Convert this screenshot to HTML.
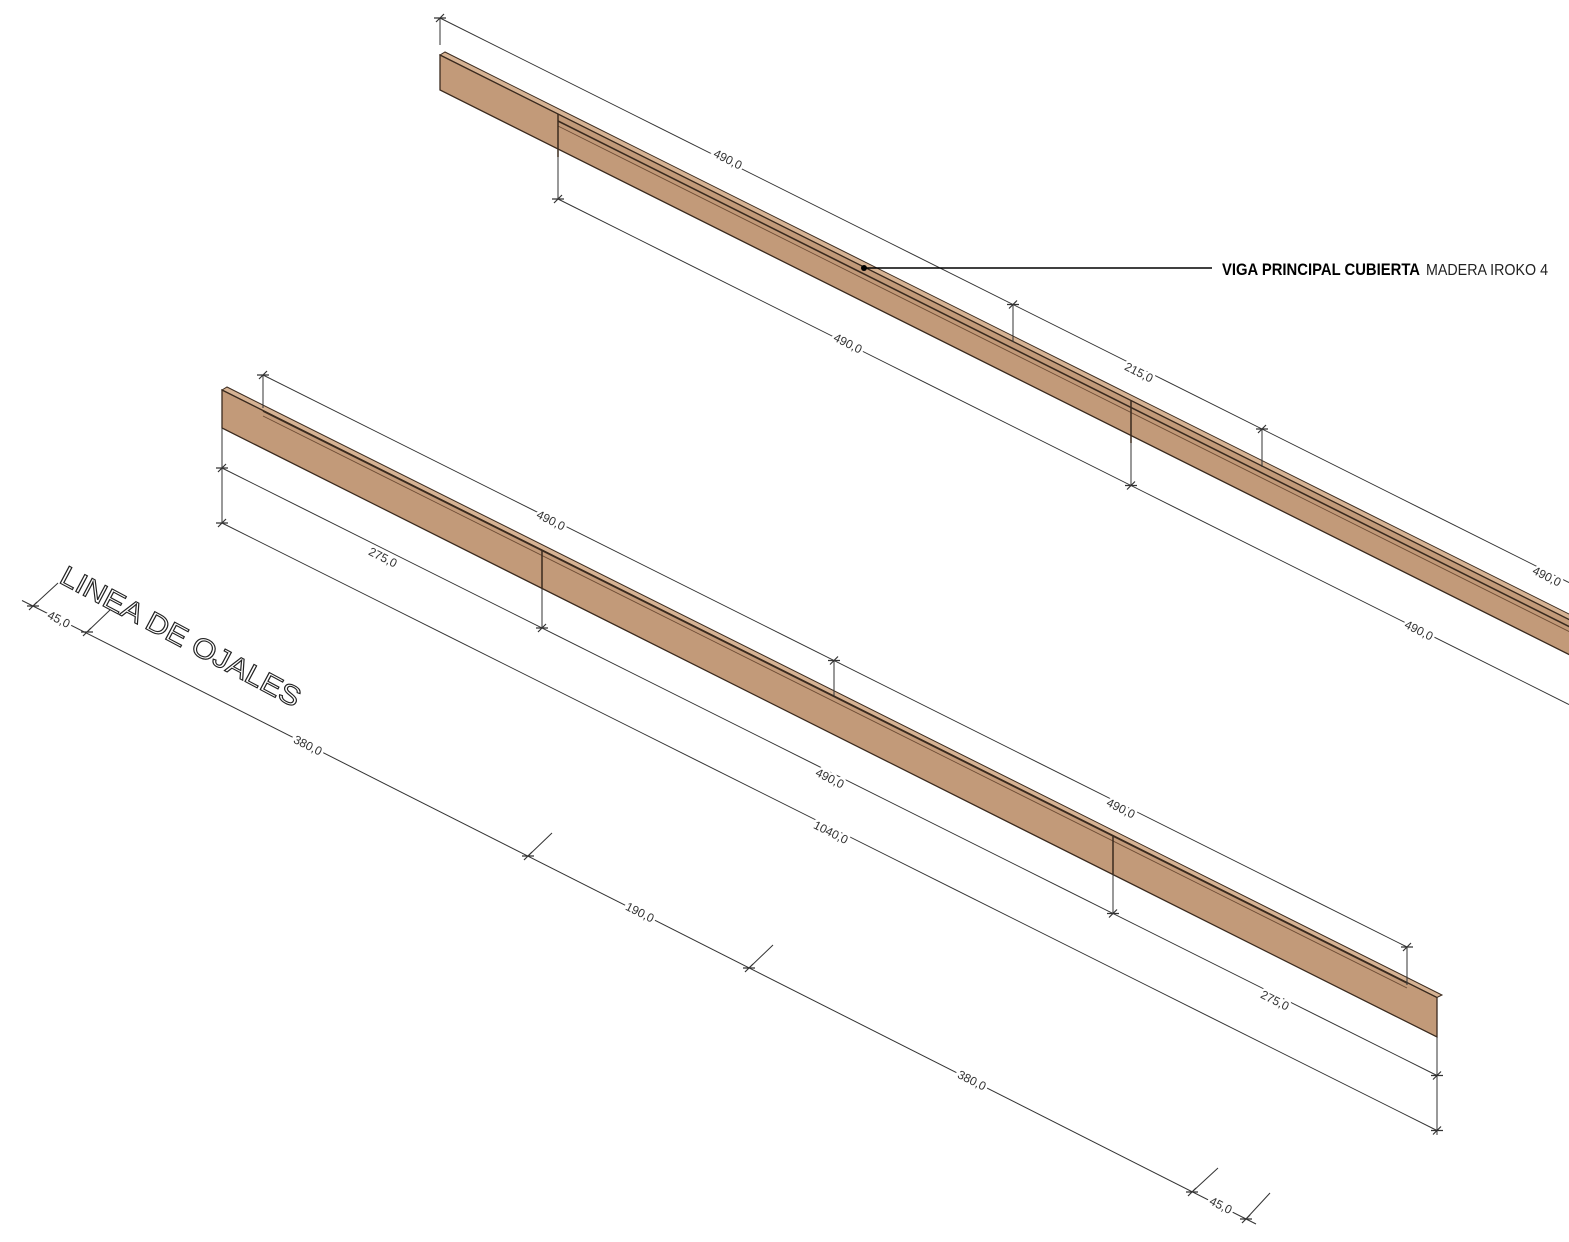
<!DOCTYPE html>
<html><head><meta charset="utf-8"><style>
html,body{margin:0;padding:0;background:#fff}
svg{display:block}
.d{stroke:#333;stroke-width:1;fill:none}
.t{font-family:"Liberation Sans",sans-serif;font-size:12px;fill:#333;stroke:#fff;stroke-width:5;paint-order:stroke;text-anchor:middle}
</style></head><body>
<svg width="1569" height="1242" viewBox="0 0 1569 1242" xmlns="http://www.w3.org/2000/svg">
<defs>
<g id="tk"><path d="M-6,0 L6,0 M-4,4 L4,-4" stroke="#333" stroke-width="1.2"/></g>
</defs>
<!-- TOP BEAM -->
<polygon points="440,55 445,52 1585,622 1580,625" fill="#d6b394" stroke="#3a2a1e" stroke-width="1"/>
<polygon points="440,55 1580,625 1580,660 440,90" fill="#c29a79" stroke="#3a2a1e" stroke-width="1.3"/>
<line x1="558" y1="121" x2="1580" y2="632" stroke="#3a2a1e" stroke-width="1.6"/>
<line x1="558" y1="126" x2="1580" y2="637" stroke="#6b4a33" stroke-width="0.8"/>
<line x1="558" y1="114" x2="558" y2="157" stroke="#3a2a1e" stroke-width="1.5"/>
<line x1="1131" y1="400" x2="1131" y2="443" stroke="#3a2a1e" stroke-width="1.5"/>
<!-- LOWER BEAM -->
<polygon points="222,390 227,387 1442,995 1437,997.5" fill="#d6b394" stroke="#3a2a1e" stroke-width="1"/>
<polygon points="222,390 1437,997.5 1437,1037 222,428" fill="#c29a79" stroke="#3a2a1e" stroke-width="1.3"/>
<line x1="263" y1="411" x2="1407" y2="983" stroke="#3a2a1e" stroke-width="1.6"/>
<line x1="263" y1="416" x2="1407" y2="988" stroke="#6b4a33" stroke-width="0.8"/>
<line x1="542" y1="550" x2="542" y2="589" stroke="#3a2a1e" stroke-width="1.5"/>
<line x1="1113" y1="835" x2="1113" y2="874" stroke="#3a2a1e" stroke-width="1.5"/>

<!-- dims top beam -->
<line class="d" x1="440" y1="18" x2="1569" y2="582.5"/>
<line class="d" x1="440" y1="18" x2="440" y2="45"/>
<line class="d" x1="1013" y1="304.5" x2="1013" y2="342"/>
<line class="d" x1="1262" y1="429" x2="1262" y2="467"/>
<use href="#tk" x="440" y="18"/><use href="#tk" x="1013" y="304.5"/><use href="#tk" x="1262" y="429"/>
<line class="d" x1="558" y1="199" x2="1569" y2="704.5"/>
<line class="d" x1="558" y1="157" x2="558" y2="199"/>
<line class="d" x1="1131" y1="443" x2="1131" y2="485.5"/>
<use href="#tk" x="558" y="199"/><use href="#tk" x="1131" y="485.5"/>
<text class="t" transform="translate(726,163) rotate(26.57)">490,0</text>
<text class="t" transform="translate(1137,376) rotate(26.57)">215,0</text>
<text class="t" transform="translate(1545,580) rotate(26.57)">490,0</text>
<text class="t" transform="translate(846,347) rotate(26.57)">490,0</text>
<text class="t" transform="translate(1417,634) rotate(26.57)">490,0</text>

<!-- dims lower beam -->
<line class="d" x1="263" y1="375" x2="1407" y2="947"/>
<line class="d" x1="263" y1="375" x2="263" y2="408"/>
<line class="d" x1="834" y1="660.5" x2="834" y2="696"/>
<line class="d" x1="1407" y1="947" x2="1407" y2="985"/>
<use href="#tk" x="263" y="375"/><use href="#tk" x="834" y="660.5"/><use href="#tk" x="1407" y="947"/>
<line class="d" x1="222" y1="468" x2="1437" y2="1075.5"/>
<line class="d" x1="222" y1="523" x2="1437" y2="1130.5"/>
<line class="d" x1="222" y1="428" x2="222" y2="523"/>
<line class="d" x1="542" y1="589" x2="542" y2="628"/>
<line class="d" x1="1113" y1="874" x2="1113" y2="913.5"/>
<line class="d" x1="1437" y1="1037" x2="1437" y2="1135"/>
<use href="#tk" x="222" y="468"/><use href="#tk" x="542" y="628"/><use href="#tk" x="1113" y="913.5"/><use href="#tk" x="1437" y="1075.5"/>
<use href="#tk" x="222" y="523"/><use href="#tk" x="1437" y="1130.5"/>
<text class="t" transform="translate(549,524) rotate(26.57)">490,0</text>
<text class="t" transform="translate(1119,812) rotate(26.57)">490,0</text>
<text class="t" transform="translate(381,561) rotate(26.57)">275,0</text>
<text class="t" transform="translate(828,782) rotate(26.57)">490,0</text>
<text class="t" transform="translate(1273,1004) rotate(26.57)">275,0</text>
<text class="t" transform="translate(829,836) rotate(26.57)">1040,0</text>

<!-- ojales -->
<line class="d" x1="22" y1="600.5" x2="1256" y2="1224"/>
<line class="d" x1="33" y1="606" x2="58" y2="583"/>
<line class="d" x1="87" y1="632" x2="110" y2="610"/>
<line class="d" x1="528" y1="856" x2="552" y2="833"/>
<line class="d" x1="749" y1="968" x2="773" y2="945"/>
<line class="d" x1="1192" y1="1192" x2="1218" y2="1168"/>
<line class="d" x1="1246" y1="1219" x2="1270" y2="1193"/>
<use href="#tk" x="33" y="606"/><use href="#tk" x="87" y="632"/><use href="#tk" x="528" y="856"/><use href="#tk" x="749" y="968"/><use href="#tk" x="1192" y="1192"/><use href="#tk" x="1246" y="1219"/>
<text class="t" transform="translate(57,623) rotate(26.57)">45,0</text>
<text class="t" transform="translate(306,749) rotate(26.57)">380,0</text>
<text class="t" transform="translate(638,916) rotate(26.57)">190,0</text>
<text class="t" transform="translate(970,1084) rotate(26.57)">380,0</text>
<text class="t" transform="translate(1219,1209) rotate(26.57)">45,0</text>
<text transform="translate(58,582) rotate(28)" font-family="Liberation Sans,sans-serif" font-size="28" fill="#fff" stroke="#222" stroke-width="1.1" textLength="268" lengthAdjust="spacingAndGlyphs">LINEA DE OJALES</text>

<!-- leader -->
<circle cx="864" cy="268" r="3" fill="#000"/>
<line x1="864" y1="268" x2="1212" y2="268" stroke="#000" stroke-width="1.5"/>
<text x="1222" y="275" font-family="Liberation Sans,sans-serif" font-weight="bold" font-size="17" fill="#000" textLength="198" lengthAdjust="spacingAndGlyphs">VIGA PRINCIPAL CUBIERTA</text>
<text x="1426" y="275" font-family="Liberation Sans,sans-serif" font-size="16" fill="#222" textLength="122" lengthAdjust="spacingAndGlyphs">MADERA IROKO 4</text>
</svg>
</body></html>
